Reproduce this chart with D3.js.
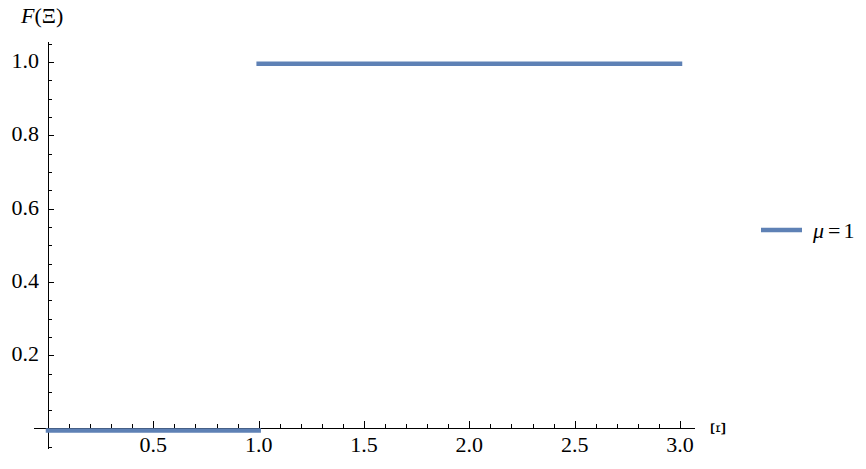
<!DOCTYPE html>
<meta charset="utf-8">
<body style="margin:0">
<svg width="866" height="469"></svg>
<script src="https://d3js.org/d3.v7.min.js"></script>
<script>

// Step function, mu = 1
var segX = [[0, 1], [1, 3]];
var segY = [0, 1];
var seriesName = "1";

var xTicks = [0.5, 1.0, 1.5, 2.0, 2.5, 3.0];
var yTicks = [0.2, 0.4, 0.6, 0.8, 1.0];

var svg = d3.select("svg").style("font-family", "'Liberation Serif'");
var blue = "#5e81b5";

var x = d3.scaleLinear().domain([0, 3]).range([48, 680]);
var y = d3.scaleLinear().domain([0, 1]).range([428.7, 62]);

var axes = svg.append("g")
    .attr("stroke", "#000")
    .attr("stroke-width", 1)
    .attr("shape-rendering", "crispEdges");

// x axis
axes.append("line")
    .attr("x1", x(-0.067)).attr("x2", x(3.07))
    .attr("y1", y(0)).attr("y2", y(0));

axes.selectAll(".xminor")
  .data(d3.range(1, 31).map(function(i) { return i / 10; }))
  .enter().append("line")
    .attr("x1", function(d) { return Math.round(x(d)) + 0.5; })
    .attr("x2", function(d) { return Math.round(x(d)) + 0.5; })
    .attr("y1", y(0))
    .attr("y2", function(d) { return y(0) - (Math.abs(d * 2 - Math.round(d * 2)) < 1e-6 ? 8 : 5); });

svg.selectAll(".xlab")
  .data(xTicks)
  .enter().append("text")
    .attr("x", function(d) { return x(d); })
    .attr("y", 452)
    .attr("text-anchor", "middle")
    .style("font-family", function() { return "'Liberation Serif'"; })
    .attr("font-size", 22)
    .text(function(d) { return d.toFixed(1); });

// y axis
axes.append("line")
    .attr("x1", x(0)).attr("x2", x(0))
    .attr("y1", y(-0.055)).attr("y2", y(1.055));

axes.selectAll(".yminor")
  .data(d3.range(-1, 22).map(function(i) { return i / 20; }).filter(function(d) { return d !== 0; }))
  .enter().append("line")
    .attr("y1", function(d) { return Math.round(y(d)) + 0.5; })
    .attr("y2", function(d) { return Math.round(y(d)) + 0.5; })
    .attr("x1", x(0))
    .attr("x2", function(d) { return x(0) + (Math.abs(d * 5 - Math.round(d * 5)) < 1e-6 ? 6 : 4); });

svg.selectAll(".ylab")
  .data(yTicks)
  .enter().append("text")
    .attr("x", 39)
    .attr("y", function(d) { return y(d) + 6; })
    .attr("text-anchor", "end")
    .style("font-family", function() { return "'Liberation Serif'"; })
    .attr("font-size", 22)
    .text(function(d) { return d.toFixed(1); });

// axis labels
var fl = svg.append("text")
    .attr("x", 21).attr("y", 23)
    .style("font-family", "'Liberation Serif'")
    .attr("font-size", 22);
fl.append("tspan").attr("font-style", "italic").text("F");
fl.append("tspan").text("(Ξ)");

svg.append("text")
    .attr("transform", "translate(725," + y(0) + ") rotate(-90)")
    .attr("text-anchor", "middle")
    .style("font-family", "'Liberation Serif'")
    .attr("font-size", 22)
    .text("Ξ");

// step segments
svg.selectAll(".seg")
  .data(segX.map(function(s, i) { return { x0: s[0], x1: s[1], v: segY[i] }; }))
  .enter().append("line")
    .attr("x1", function(d) { return x(d.x0); })
    .attr("x2", function(d) { return x(d.x1); })
    .attr("y1", function(d) { return y(d.v) + 1.8; })
    .attr("y2", function(d) { return y(d.v) + 1.8; })
    .attr("stroke", blue)
    .attr("stroke-width", 4.5)
    .attr("stroke-linecap", "square");

// legend
var lg = svg.append("g").attr("transform", "translate(761,230)");
lg.append("line")
    .attr("x1", 0).attr("x2", 41)
    .attr("stroke", blue)
    .attr("stroke-width", 4.5);
var lt = lg.append("text")
    .attr("x", 52).attr("y", 8)
    .style("font-family", "'Liberation Serif'")
    .attr("font-size", 22);
lt.append("tspan").attr("font-style", "italic").text("μ");
lt.append("tspan").attr("dx", 4).text("=");
lt.append("tspan").attr("dx", 3).text(seriesName);

</script>
